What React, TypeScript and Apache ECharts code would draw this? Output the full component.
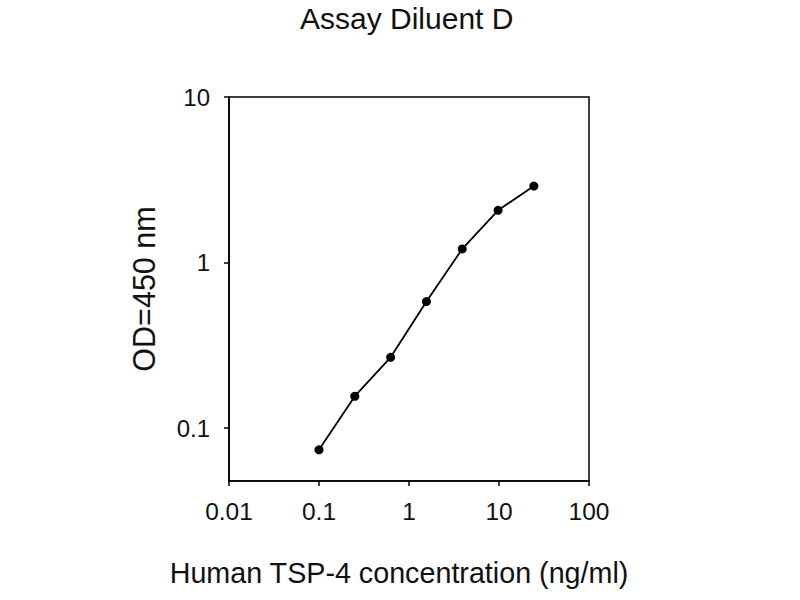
import React, { useEffect, useRef } from "react";
import * as echarts from "echarts";

const concentrations = [0.1, 0.25, 0.625, 1.5625, 3.906, 9.766, 24.41];
const odValues = [0.074, 0.156, 0.268, 0.582, 1.21, 2.07, 2.9];
const xTickValues = [0.01, 0.1, 1, 10, 100];
const yTickValues = [0.1, 1, 10];

const FONT = "'Liberation Sans', Arial, sans-serif";

function isDecade(v: number) {
  const l = Math.log10(v);
  return Math.abs(l - Math.round(l)) < 1e-6;
}

export default function App() {
  const ref = useRef<HTMLDivElement>(null);
  useEffect(() => {
    document.body.style.margin = "0";
    if (!ref.current) return;
    const chart = echarts.init(ref.current, null, { renderer: "svg" });
    chart.setOption({
      animation: false,
      backgroundColor: "#ffffff",
      title: {
        text: "Assay Diluent D",
        left: 300,
        top: 3,
        padding: 0,
        textStyle: { fontFamily: FONT, fontSize: 30, fontWeight: "normal", color: "#111" },
      },
      grid: {
        left: 229,
        right: 211,
        top: 97,
        bottom: 119,
        show: true,
        borderColor: "#000",
        borderWidth: 1.5,
        backgroundColor: "transparent",
      },
      xAxis: {
        type: "log",
        logBase: 10,
        min: 0.01,
        max: 100,
        name: "Human TSP-4 concentration (ng/ml)",
        nameLocation: "middle",
        nameGap: 77,
        nameTextStyle: { fontFamily: FONT, fontSize: 28.7, color: "#111", padding: [0, 20, 0, 0] },
        axisLine: { show: true, lineStyle: { color: "#000", width: 1.6 } },
        axisTick: { show: true, length: 5, customValues: xTickValues, lineStyle: { color: "#000", width: 1.5 } },
        minorTick: { show: false },
        splitLine: { show: false },
        axisLabel: {
          customValues: xTickValues,
          margin: 18,
          fontFamily: FONT,
          fontSize: 24.5,
          color: "#111",
          formatter: (v: number) => (isDecade(v) ? String(+v.toPrecision(6)) : ""),
        },
      },
      yAxis: {
        type: "log",
        logBase: 10,
        min: 0.048,
        max: 10,
        name: "OD=450 nm",
        nameLocation: "middle",
        nameGap: 70,
        nameTextStyle: { fontFamily: FONT, fontSize: 30.5, color: "#111" },
        axisLine: { show: true, lineStyle: { color: "#000", width: 1.6 } },
        axisTick: { show: true, length: 5, customValues: yTickValues, lineStyle: { color: "#000", width: 1.5 } },
        minorTick: { show: false },
        splitLine: { show: false },
        axisLabel: {
          customValues: yTickValues,
          margin: 19,
          fontFamily: FONT,
          fontSize: 24,
          color: "#111",
          formatter: (v: number) => (isDecade(v) ? String(+v.toPrecision(6)) : ""),
        },
      },
      series: [
        {
          type: "line",
          data: concentrations.map((c, i) => [c, odValues[i]]),
          symbol: "circle",
          symbolSize: 9,
          lineStyle: { color: "#000", width: 1.8 },
          itemStyle: { color: "#000" },
        },
      ],
    });
    return () => chart.dispose();
  }, []);
  return <div ref={ref} style={{ width: 800, height: 600 }} />;
}
